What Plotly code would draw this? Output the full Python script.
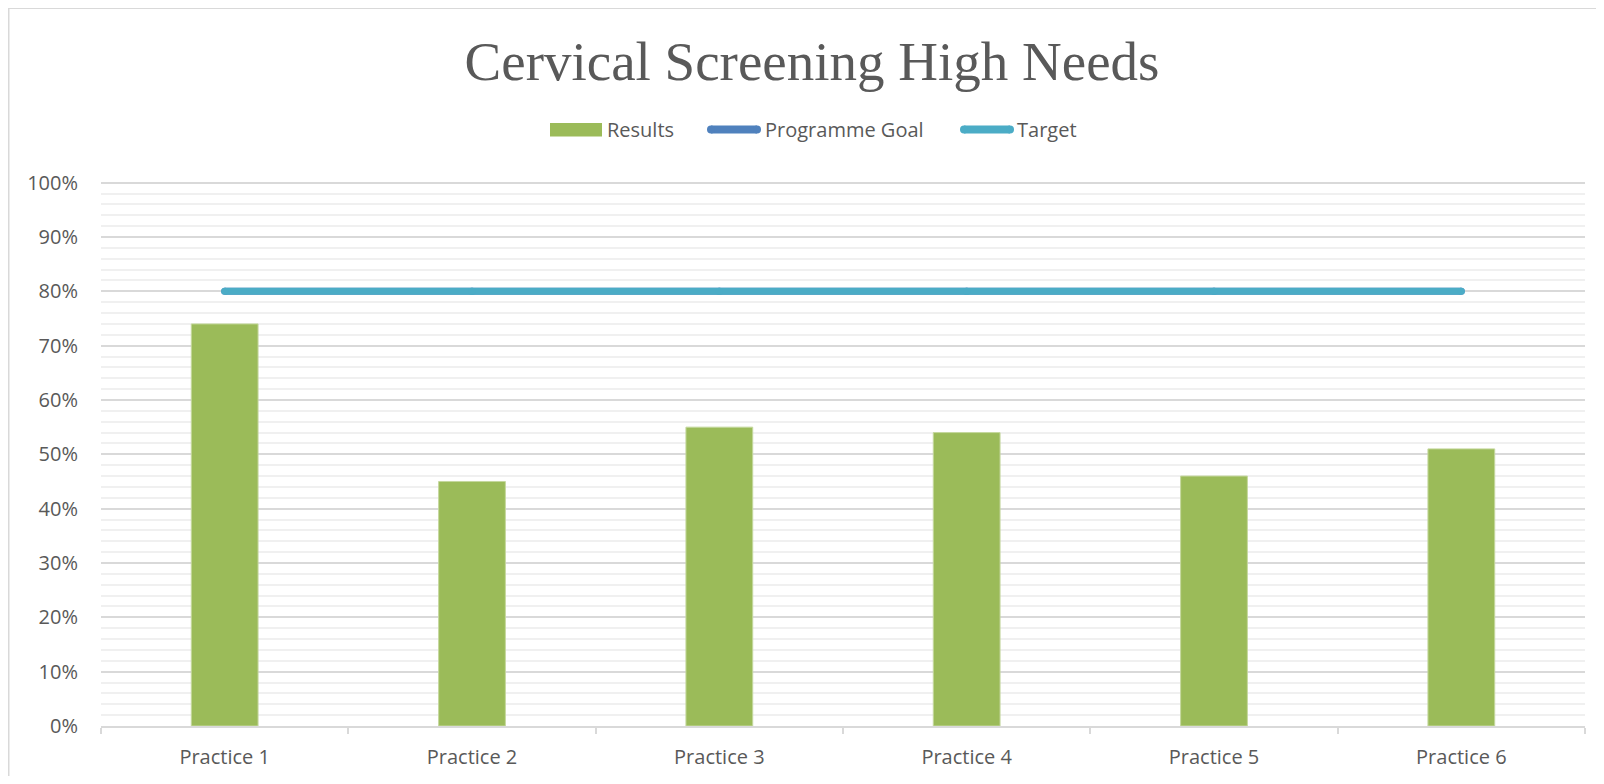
import plotly.graph_objects as go

categories = ["Practice 1", "Practice 2", "Practice 3", "Practice 4", "Practice 5", "Practice 6"]
results = [0.74, 0.45, 0.55, 0.54, 0.46, 0.51]
programme_goal = [0.80, 0.80, 0.80, 0.80, 0.80, 0.80]
target = [0.80, 0.80, 0.80, 0.80, 0.80, 0.80]
y_ticks = [0, 0.1, 0.2, 0.3, 0.4, 0.5, 0.6, 0.7, 0.8, 0.9, 1.0]
y_tick_labels = ["0%", "10%", "20%", "30%", "40%", "50%", "60%", "70%", "80%", "90%", "100%"]
series_names = ["Results", "Programme Goal", "Target"]
series_colors = ["#9BBB59", "#4F81BD", "#4BACC6"]

# page offset from default html body margin
OFF = 8
W, H = 1588, 768
L, R = 101 - OFF, W - (1585 - OFF)
B = H - (726 - OFF)
YMAX = 1.003
T = H - B - 543 * YMAX
pw, ph = W - L - R, H - T - B

def px_x(page_x):
    return (page_x - OFF - L) / pw

def px_y(page_y):
    return (H - B - (page_y - OFF)) / ph

fig = go.Figure()
fig.add_trace(go.Bar(
    x=categories, y=results, name=series_names[0], showlegend=False,
    marker=dict(color=series_colors[0], line=dict(color="#C5D89E", width=1)),
))
fig.add_trace(go.Scatter(
    x=categories, y=programme_goal, name=series_names[1], mode="lines+markers", showlegend=False,
    line=dict(color=series_colors[1], width=7), marker=dict(color=series_colors[1], size=7),
))
fig.add_trace(go.Scatter(
    x=categories, y=target, name=series_names[2], mode="lines+markers", showlegend=False,
    line=dict(color=series_colors[2], width=7), marker=dict(color=series_colors[2], size=7),
))

# chart border
fig.add_shape(type="rect", xref="paper", yref="paper",
              x0=px_x(OFF + 0.75), x1=px_x(1620),
              y0=px_y(800), y1=px_y(OFF + 0.75),
              line=dict(color="#D9D9D9", width=1.5), fillcolor="rgba(0,0,0,0)", layer="below")

# legend (drawn to match the reference's wide swatches)
leg_y = 130
fig.add_shape(type="rect", xref="paper", yref="paper",
              x0=px_x(550), x1=px_x(602), y0=px_y(137), y1=px_y(123.5),
              line=dict(width=0), fillcolor=series_colors[0])
line_items = [(711, 757, series_colors[1]), (964, 1010, series_colors[2])]
for x0, x1, col in line_items:
    fig.add_shape(type="line", xref="paper", yref="paper",
                  x0=px_x(x0), x1=px_x(x1), y0=px_y(leg_y), y1=px_y(leg_y),
                  line=dict(color=col, width=8))
    for xc in (x0, x1):
        fig.add_shape(type="circle", xref="paper", yref="paper",
                      xsizemode="pixel", ysizemode="pixel",
                      xanchor=px_x(xc), yanchor=px_y(leg_y),
                      x0=-4, x1=4, y0=-4, y1=4,
                      line=dict(width=0), fillcolor=col)
text_lefts = [607, 765, 1017]
for name, tx in zip(series_names, text_lefts):
    fig.add_annotation(text=name, xref="paper", yref="paper",
                       x=px_x(tx), y=px_y(leg_y), xanchor="left", yanchor="middle",
                       showarrow=False, xshift=-2,
                       font=dict(family="Open Sans", size=20, color="#595959"))

fig.update_layout(
    width=W, height=H,
    margin=dict(l=L, r=R, t=T, b=B, autoexpand=False),
    paper_bgcolor="white", plot_bgcolor="white",
    bargap=0.73,
    showlegend=False,
    title=dict(text="Cervical Screening High Needs", x=px_x(812), xanchor="center",
               xref="paper", y=1 - (61 - OFF) / H, yref="container", yanchor="middle",
               font=dict(family="Liberation Serif", size=55, color="#595959")),
    font=dict(family="Open Sans", size=20, color="#595959"),
)
fig.update_xaxes(
    type="category", range=[-0.5, 5.5],
    showline=True, linecolor="#D9D9D9", linewidth=1.5,
    ticks="outside", tickson="boundaries", ticklen=6, tickcolor="#D9D9D9", tickwidth=1.5,
    showgrid=False, tickfont=dict(family="Open Sans", size=20, color="#595959"),
    ticklabelstandoff=12,
)
fig.update_yaxes(
    range=[0, YMAX], tickvals=y_ticks, ticktext=y_tick_labels,
    showgrid=True, gridcolor="#D9D9D9", gridwidth=1.5,
    minor=dict(dtick=0.02, showgrid=True, gridcolor="#F0F0F0", gridwidth=1.5),
    showline=False, zeroline=False, ticks="",
    tickfont=dict(family="Open Sans", size=20, color="#595959"),
    ticklabelstandoff=22,
)

fig.write_html("out.html")
